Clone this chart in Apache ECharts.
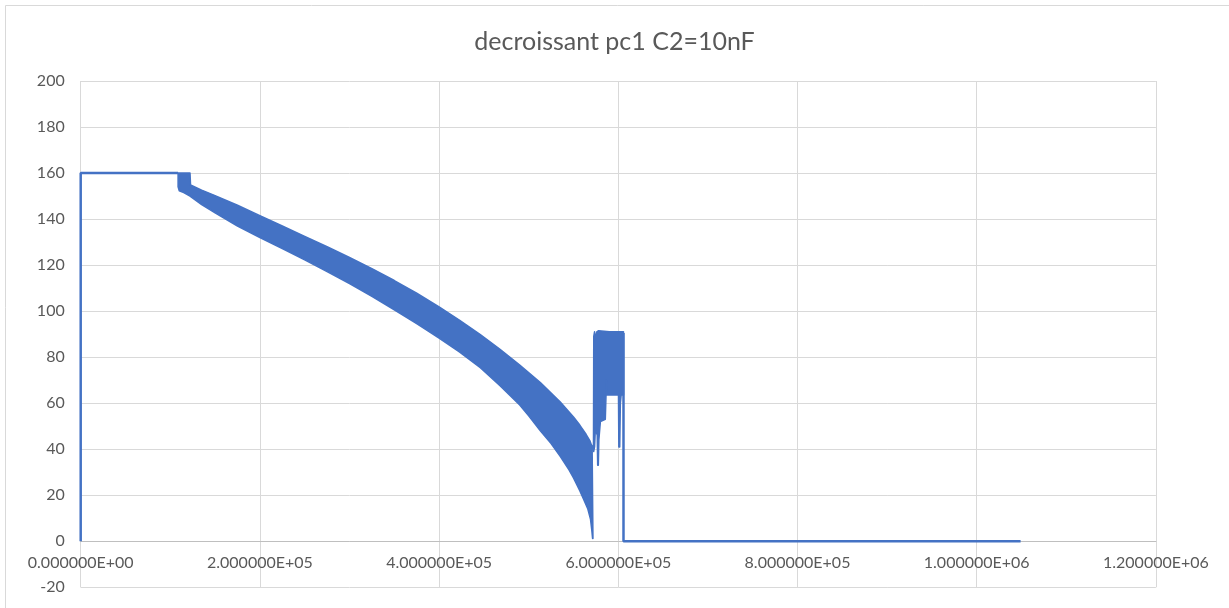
<!DOCTYPE html>
<html>
<head>
<meta charset="utf-8">
<script src="https://cdn.jsdelivr.net/npm/echarts@6/dist/echarts.min.js"></script>
<style>
  html, body { margin: 0; padding: 0; background: #ffffff; }
  #chart { width: 1229px; height: 608px; }
</style>
</head>
<body>
<div id="chart"></div>
<script>
// Signal trace: plain line parts before and after the oscillating region
const leadIn = [[0, 0], [0, 160], [108700, 160]];
const tail = [[605800, 90.5], [605800, 0], [1049000, 0]];

// Dense oscillation drawn as its envelope: upper edge left to right
const bandUpper = [
  [108700, 160], [122000, 160], [122600, 154.8], [135000, 152.6], [150000, 150.2],
  [175000, 146], [200000, 141.5], [225000, 137], [250000, 132.5], [275000, 128],
  [300000, 123.3], [325000, 118.5], [350000, 113.3], [375000, 107.8], [400000, 101.8],
  [423000, 96], [446000, 89.8], [468000, 83.4], [490000, 76.6], [513000, 69],
  [535000, 60.6], [550000, 54], [557000, 50.5], [564000, 46.5], [568500, 43.5],
  [570800, 41], [571700, 1.2]
];
// ... and lower edge right to left
const bandLower = [
  [571300, 1.2], [570500, 4.5], [569000, 9.5], [566000, 14], [561000, 18.5],
  [557000, 22], [550000, 27.5], [545000, 31], [535000, 37], [525000, 42.5],
  [513000, 48], [500000, 54.5], [490000, 59.2], [468000, 67.6], [446000, 75.4],
  [423000, 82.2], [400000, 88.3], [375000, 94.6], [350000, 100.6], [325000, 106.4],
  [300000, 112], [275000, 117.2], [250000, 122.3], [225000, 127.2], [200000, 132],
  [175000, 137], [150000, 142.7], [135000, 146.3], [122000, 150], [115000, 151.5],
  [110000, 152.3], [108700, 154]
];
// Burst of oscillation after the dip, outline of its filled region
const burst = [
  [570800, 41], [572300, 42], [572600, 89], [573500, 91], [575000, 88],
  [576000, 91], [578000, 91.5], [590000, 91], [600000, 91], [605800, 91],
  [605800, 63.6], [603200, 63.6], [602300, 60], [601600, 41], [600600, 41],
  [600200, 63.6], [587500, 63.6], [586800, 70], [585500, 53], [580000, 52],
  [578300, 44], [577700, 33], [577000, 33], [576500, 46], [575000, 48],
  [574200, 47], [573500, 41], [572500, 39]
];

const yTicks = { min: -20, max: 200, step: 20 };
const xTicks = { min: 0, max: 1200000, step: 200000 };

const envelope = bandUpper.concat(bandLower);
const shapes = [envelope, burst];

function sci(v) {
  return v.toExponential(6).toUpperCase().replace(/E([+-])(\d)$/, 'E$10$2');
}

const BLUE = '#4472C4';
const GRID = { left: 80.7, right: 73.1, top: 81, bottom: 20.7 };
const plotHeight = 608 - GRID.top - GRID.bottom;
// the horizontal axis sits on y = 0, one step above the bottom edge
const zeroOffset = -plotHeight * (0 - yTicks.min) / (yTicks.max - yTicks.min);

const chart = echarts.init(document.getElementById('chart'), null, { renderer: 'canvas' });

chart.setOption({
  animation: false,
  backgroundColor: '#ffffff',
  title: {
    text: 'decroissant pc1 C2=10nF',
    left: 'center',
    top: 24,
    textStyle: { fontFamily: 'Lato', fontSize: 25, fontWeight: 'normal', color: '#595959' }
  },
  graphic: [{
    type: 'rect',
    shape: { x: 5.5, y: 5.5, width: 1260, height: 640 },
    style: { fill: 'none', stroke: '#d9d9d9', lineWidth: 1 },
    silent: true
  }],
  grid: {
    left: GRID.left, right: GRID.right, top: GRID.top, bottom: GRID.bottom,
    containLabel: false, outerBoundsMode: 'none'
  },
  xAxis: {
    type: 'value',
    position: 'bottom',
    offset: zeroOffset,
    min: xTicks.min, max: xTicks.max, interval: xTicks.step,
    axisLine: { show: true, onZero: false, lineStyle: { color: '#bfbfbf', width: 1 } },
    axisTick: { show: false },
    axisLabel: { formatter: sci, color: '#595959', fontFamily: 'Lato', fontSize: 16, margin: 14 },
    splitLine: { show: true, lineStyle: { color: '#d9d9d9', width: 1 } }
  },
  yAxis: {
    type: 'value',
    min: yTicks.min, max: yTicks.max, interval: yTicks.step,
    axisLine: { show: false },
    axisTick: { show: false },
    axisLabel: { color: '#595959', fontFamily: 'Lato', fontSize: 16, margin: 16 },
    splitLine: { show: true, lineStyle: { color: '#d9d9d9', width: 1 } }
  },
  series: [
    {
      type: 'custom',
      data: shapes.map((s, i) => [s[0][0], s[0][1], i]),
      encode: { x: 0, y: 1 },
      clip: true,
      renderItem: function (params, api) {
        const pts = shapes[params.dataIndex].map(p => api.coord(p));
        return {
          type: 'polygon',
          shape: { points: pts },
          style: { fill: BLUE, stroke: BLUE, lineWidth: 1.5, lineJoin: 'round' }
        };
      },
      z: 3
    },
    {
      type: 'line', data: leadIn, showSymbol: false,
      lineStyle: { color: BLUE, width: 2.5 }, z: 4
    },
    {
      type: 'line', data: tail, showSymbol: false,
      lineStyle: { color: BLUE, width: 2.5 }, z: 4
    }
  ]
});
</script>
</body>
</html>
